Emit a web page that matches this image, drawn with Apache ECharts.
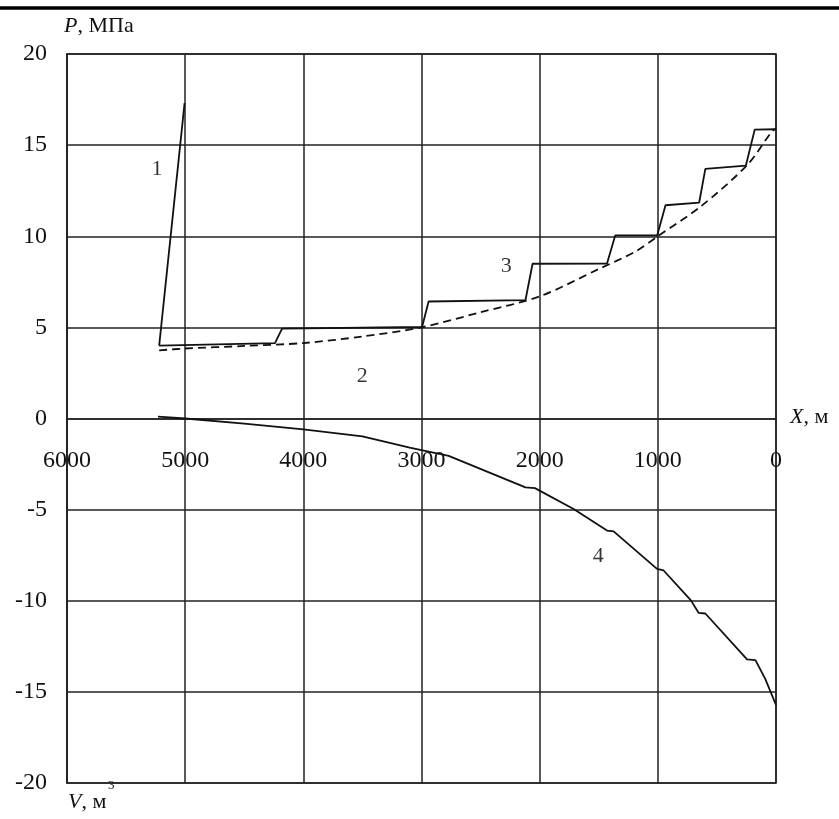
<!DOCTYPE html>
<html>
<head>
<meta charset="utf-8">
<script src="https://cdn.jsdelivr.net/npm/echarts@6/dist/echarts.min.js"></script>
<style>html,body{margin:0;padding:0;background:#fff}#c{width:839px;height:819px}</style>
</head>
<body>
<div id="c"></div>
<script>
// X ticks (m), Y ticks (MPa / m3)
const xTicks = [0, 1000, 2000, 3000, 4000, 5000, 6000];
const yTicks = [-20, -15, -10, -5, 0, 5, 10, 15, 20];

// Curve 1
const curve1 = [[5220, 4.0], [5005, 17.3]];
// Curve 2 (dashed)
const curve2 = [[5220, 3.74], [5000, 3.84], [4500, 3.98], [4000, 4.14], [3500, 4.5], [3000, 5.0], [2500, 5.83], [2000, 6.7], [1500, 8.2], [1190, 9.16], [1000, 10.0], [640, 11.62], [245, 13.9], [33, 15.76], [0, 15.9]];
// Curve 3 (steps)
const curve3 = [[5220, 4.0], [4240, 4.14], [4180, 4.93], [2995, 5.02], [2940, 6.42], [2120, 6.5], [2060, 8.49], [1430, 8.5], [1360, 10.05], [1005, 10.05], [935, 11.7], [650, 11.85], [598, 13.7], [255, 13.88], [180, 15.85], [0, 15.87]];
// Curve 4 (V)
const curve4 = [[5230, 0.1], [5000, 0.0], [4500, -0.28], [4000, -0.6], [3500, -0.98], [3100, -1.6], [2770, -2.05], [2120, -3.78], [2040, -3.82], [1713, -4.97], [1430, -6.15], [1374, -6.19], [1007, -8.25], [951, -8.34], [720, -9.98], [654, -10.67], [598, -10.7], [245, -13.22], [174, -13.26], [90, -14.3], [0, -15.72]];
// Curve number labels
const curveLabels = [[5238, 13.7, '1'], [3502, 2.3, '2'], [2283, 8.34, '3'], [1504, -7.57, '4']];

const FONT = 'Liberation Serif';
const INK = '#111';
const GRID_TOP = 54, GRID_BOTTOM = 36, H = 819;
const zeroOffset = -((H - GRID_TOP - GRID_BOTTOM) * (0 - yTicks[0]) / (yTicks[yTicks.length - 1] - yTicks[0]));
const chart = echarts.init(document.getElementById('c'), null, {renderer: 'canvas'});
const lineStyle = {color: INK, width: 1.8};
chart.setOption({
  animation: false,
  backgroundColor: '#fff',
  grid: {left: 67, right: 63, top: GRID_TOP, bottom: GRID_BOTTOM, outerBoundsMode: 'none', containLabel: false,
         show: true, borderColor: '#222', borderWidth: 1.5, backgroundColor: 'transparent'},
  xAxis: {
    type: 'value', inverse: true, min: xTicks[0], max: xTicks[xTicks.length - 1], interval: 1000,
    position: 'bottom', offset: zeroOffset,
    axisLine: {show: true, onZero: false, lineStyle: {color: '#222', width: 1.5}},
    axisTick: {show: false},
    axisLabel: {margin: 30, fontFamily: FONT, fontSize: 24, color: INK, formatter: v => String(v)},
    splitLine: {show: true, lineStyle: {color: '#222', width: 1.5}}
  },
  yAxis: {
    type: 'value', min: yTicks[0], max: yTicks[yTicks.length - 1], interval: 5,
    axisLine: {show: true, onZero: false, lineStyle: {color: '#222', width: 1.5}},
    axisTick: {show: false},
    axisLabel: {margin: 20, fontFamily: FONT, fontSize: 24, color: INK, formatter: v => String(v)},
    splitLine: {show: true, lineStyle: {color: '#222', width: 1.5}}
  },
  series: [
    {type: 'line', data: curve1, symbol: 'none', lineStyle: lineStyle, z: 5},
    {type: 'line', data: curve2, symbol: 'none', smooth: 0.3, lineStyle: {color: INK, width: 1.8, type: [8, 5]}, z: 5},
    {type: 'line', data: curve3, symbol: 'none', lineStyle: lineStyle, z: 5},
    {type: 'line', data: curve4, symbol: 'none', lineStyle: lineStyle, z: 5},
    {type: 'scatter', data: curveLabels, symbolSize: 0, z: 6,
     label: {show: true, position: 'inside', formatter: p => p.data[2], fontFamily: FONT, fontSize: 22, color: '#000'}}
  ],
  graphic: [
    {type: 'line', shape: {x1: 0, y1: 8, x2: 839, y2: 8}, style: {stroke: '#000', lineWidth: 3.5}},
    {type: 'text', left: 64, top: 15, style: {text: '{i|P}, МПа', font: '22px ' + FONT, fill: INK,
      rich: {i: {fontStyle: 'italic', fontFamily: FONT, fontSize: 22, fill: INK}}}},
    {type: 'text', left: 790, top: 406, style: {text: '{i|X}, м', font: '22px ' + FONT, fill: INK,
      rich: {i: {fontStyle: 'italic', fontFamily: FONT, fontSize: 22, fill: INK}}}},
    {type: 'text', left: 68, top: 791, style: {text: '{i|V}, м', font: '22px ' + FONT, fill: INK,
      rich: {i: {fontStyle: 'italic', fontFamily: FONT, fontSize: 22, fill: INK}}}},
    {type: 'text', left: 108, top: 779, style: {text: '3', font: '13px ' + FONT, fill: INK}}
  ]
});
</script>
</body>
</html>
